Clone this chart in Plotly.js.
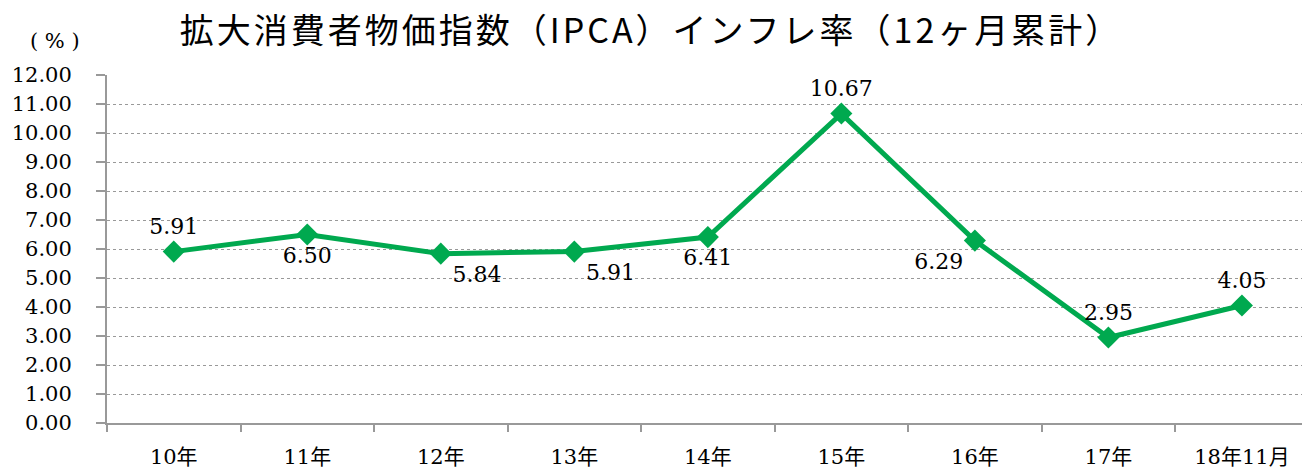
<!DOCTYPE html>
<html>
<head>
<meta charset="utf-8">
<script src="https://cdn.plot.ly/plotly-3.0.1.min.js"></script>
<style>
html,body{margin:0;padding:0;background:#fff;}
#chart{width:1302px;height:471px;}
#chart .gtitle{letter-spacing:3px;}
</style>
</head>
<body>
<div id="chart"></div>
<script>
const categories = ["10年", "11年", "12年", "13年", "14年", "15年", "16年", "17年", "18年11月"];
const inflation = [5.91, 6.50, 5.84, 5.91, 6.41, 10.67, 6.29, 2.95, 4.05];
const labelPositions = ["top center", "bottom center", "bottom right", "bottom right", "bottom center", "top center", "bottom left", "top center", "top center"];
const yTicks = [0,1,2,3,4,5,6,7,8,9,10,11,12];

const serif = "'DejaVu Serif', 'Noto Sans CJK JP', serif";

const trace = {
  x: categories,
  y: inflation,
  type: "scatter",
  mode: "lines+markers+text",
  line: {color: "#00A94F", width: 5},
  marker: {symbol: "diamond", size: 17, color: "#00A94F"},
  text: inflation.map(v => v.toFixed(2)),
  textposition: labelPositions,
  textfont: {family: serif, size: 22, color: "#000"},
  cliponaxis: false,
  hoverinfo: "x+y"
};

const layout = {
  width: 1302, height: 471,
  margin: {l: 107, r: 0, t: 75, b: 48},
  paper_bgcolor: "#fff", plot_bgcolor: "#fff",
  showlegend: false,
  title: {
    text: "拡大消費者物価指数（IPCA）インフレ率（12ヶ月累計）",
    font: {family: "'Noto Sans CJK JP', sans-serif", size: 34, color: "#000"},
    x: 0.5, xanchor: "center", xref: "container",
    y: 0.935, yanchor: "middle"
  },
  xaxis: {
    type: "category",
    range: [-0.5, 8.45],
    tickson: "boundaries",
    ticks: "outside", ticklen: 7, tickcolor: "#999", tickwidth: 2,
    showline: true, linecolor: "#999", linewidth: 2,
    showgrid: false,
    ticklabelstandoff: 14,
    tickfont: {family: serif, size: 21, color: "#000"},
    automargin: false
  },
  yaxis: {
    range: [0, 12],
    tickvals: yTicks,
    ticktext: yTicks.map(v => v.toFixed(2)),
    ticks: "outside", ticklen: 9, tickcolor: "#999", tickwidth: 2,
    showline: true, linecolor: "#999", linewidth: 2,
    showgrid: true, gridcolor: "#999", gridwidth: 1, griddash: "dot",
    zeroline: false,
    ticklabelstandoff: 20,
    tickfont: {family: serif, size: 21, color: "#000"},
    automargin: false
  },
  annotations: [{
    text: "( % )", xref: "paper", yref: "paper", x: -0.0435, y: 1.098,
    xanchor: "center", yanchor: "middle", showarrow: false,
    font: {family: serif, size: 21, color: "#000"}
  }]
};

Plotly.newPlot("chart", [trace], layout, {displayModeBar: false, staticPlot: true});
</script>
</body>
</html>
